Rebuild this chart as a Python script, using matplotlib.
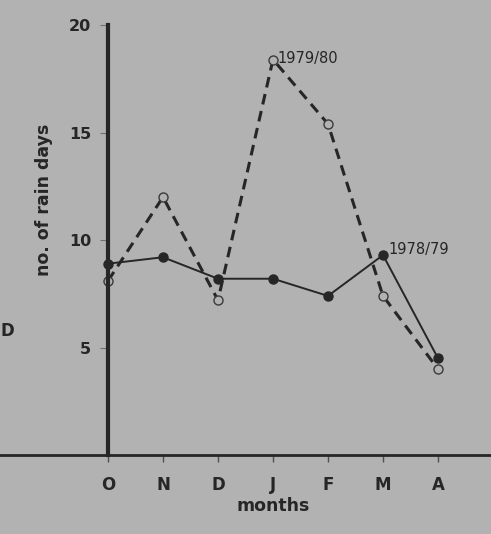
import numpy as np
import matplotlib
matplotlib.use("Agg")
import matplotlib.pyplot as plt

months = ["O", "N", "D", "J", "F", "M", "A"]
rain_7879 = [8.9, 9.2, 8.2, 8.2, 7.4, 9.3, 4.5]
rain_7980 = [8.1, 12.0, 7.2, 18.4, 15.4, 7.4, 4.0]
yticks = [5, 10, 15, 20]

bg = "#b2b2b2"
ink = "#262626"
plt.rcParams['font.family'] = ['DejaVu Sans']

fig = plt.figure(figsize=(4.91, 5.34), dpi=100, facecolor=bg)
ax = fig.add_axes([0.0, 0.148, 1.0, 0.813])
ax.set_facecolor(bg)

x = np.arange(len(months))
ax.plot(x, rain_7879, color=ink, lw=1.4, marker='o', ms=6.5,
        mfc=ink, mec=ink, zorder=3)
ax.plot(x, rain_7980, color=ink, lw=2.2, ls=(0, (3.5, 2.2)), marker='o', ms=6.5,
        mfc=bg, mec="#3a3a3a", mew=1.0, zorder=2)

ax.annotate("1979/80", (3, rain_7980[3]), xytext=(3, 1), textcoords='offset points',
            fontsize=10.5, color=ink, va='center')
ax.annotate("1978/79", (5, rain_7879[5]), xytext=(4, 4), textcoords='offset points',
            fontsize=10.5, color=ink, va='center')

ax.set_xlim(-108 / 55, (491 - 108) / 55)
ax.set_ylim(0, 20.2)

for s in ['top', 'right']:
    ax.spines[s].set_visible(False)
ax.spines['left'].set_position(('data', 0))
ax.spines['left'].set_bounds(0, 20)
ax.spines['left'].set_linewidth(3)
ax.spines['left'].set_color(ink)
ax.spines['bottom'].set_linewidth(2)
ax.spines['bottom'].set_color(ink)

ax.set_yticks(yticks)
ax.set_yticklabels([str(v) for v in yticks], fontsize=11.5, fontweight='bold', color=ink)
ax.tick_params(axis='y', direction='out', length=6, width=0.8, color="#707070", pad=6)
ax.set_xticks(x)
ax.set_xticklabels(months, fontsize=12, fontweight='bold', color=ink)
ax.tick_params(axis='x', direction='out', length=5, width=1, color="#505050", pad=10)

ax.set_ylabel("no. of rain days", fontsize=12.5, fontweight='bold', color=ink)
ax.yaxis.set_label_coords(0.108, 0.588)
ax.set_xlabel("months", fontsize=12.5, fontweight='bold', color=ink)
ax.xaxis.set_label_coords(273 / 491, -0.097)

fig.text(0.0, 0.37, "D", fontsize=12, fontweight='bold', color=ink)

fig.savefig("out.png", dpi=100, facecolor=bg)
